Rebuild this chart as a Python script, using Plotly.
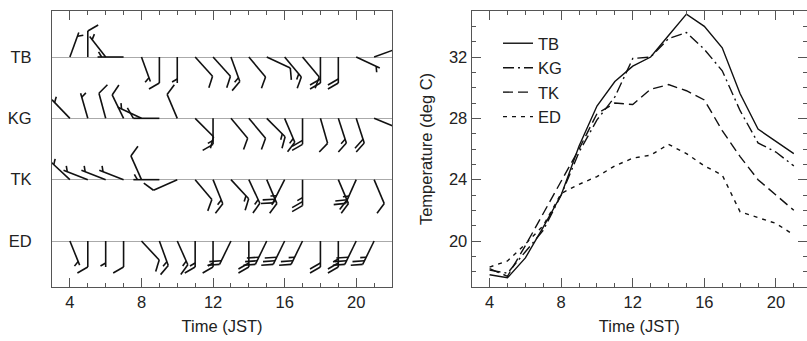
import math
import plotly.graph_objects as go

# ---------------- data ----------------
hours = list(range(4, 22))
station_names = ["TB", "KG", "TK", "ED"]
station_rows = [4, 3, 2, 1]

# wind direction (deg, direction the wind blows from); None = missing
wdir_TB = [20, 0, 322, 270, 160, 180, 180, 138, 138, 160, 140, 115, 140, 140, 180, 180, 115, 70]
wdir_KG = [316, 344, 345, 334, 295, 270, 337, 135, 180, 140, 140, 135, 157, 180, 164, 162, 162, 112]
wdir_TK = [313, 291, 291, 291, 336, 270, 246, 140, 158, 137, 155, 157, 207, 180, None, 157, 204, 157]
wdir_ED = [158, 180, 180, 180, 137, 160, 156, 180, 180, 206, 180, 206, 206, 206, 180, 180, 206, 206]

# wind speed (m/s): full feather = 2 m/s, half feather = 1 m/s
wspd_TB = [1, 2, 1, 1, 1, 2, 1, 2, 2, 3, 2, 2, 3, 2, 4, 4, 1, 2]
wspd_KG = [1, 1, 2, 2, 1, 2, 2, 2, 3, 2, 2, 3, 3, 4, 2, 3, 4, 2]
wspd_TK = [1, 1, 1, 1, 2, 1, 2, 2, 3, 3, 3, 3, 5, 5, None, 4, 5, 2]
wspd_ED = [1, 2, 1, 2, 2, 3, 3, 3, 3, 4, 4, 6, 6, 5, 4, 5, 6, 5]

# temperature (deg C)
temp_TB = [17.8, 17.6, 18.9, 20.9, 23.0, 26.2, 28.8, 30.4, 31.4, 32.0, 33.4, 34.8, 34.0, 32.6, 29.6, 27.3, 26.5, 25.7]
temp_KG = [18.1, 17.9, 19.3, 20.7, 23.0, 25.8, 27.9, 29.4, 31.9, 32.0, 33.2, 33.6, 32.5, 31.1, 28.5, 26.4, 25.8, 24.9]
temp_TK = [18.2, 17.7, 19.7, 21.8, 23.8, 26.0, 28.3, 29.0, 28.9, 29.9, 30.2, 29.8, 29.2, 27.2, 25.5, 24.0, 23.0, 22.0]
temp_ED = [18.3, 18.7, 19.8, 21.0, 23.1, 23.7, 24.2, 24.9, 25.4, 25.6, 26.3, 25.7, 24.9, 24.3, 21.9, 21.5, 21.15, 20.4]

# ---------------- layout geometry ----------------
W, H = 807, 341
M_L, M_R, M_T, M_B = 52, 0, 11, 54
PW = W - M_L - M_R
PH = H - M_T - M_B
LEFT_W = 340.0
RIGHT_X0 = 471.7 - M_L
X_RANGE_L = [3, 22]
Y_RANGE_L = [0.25, 4.75]
PX_PER_HOUR = LEFT_W / (X_RANGE_L[1] - X_RANGE_L[0])
X_RANGE_R = [3, 3 + (PW - RIGHT_X0) / PX_PER_HOUR]
Y_RANGE_R = [17, 35]

sx = PX_PER_HOUR
sy = PH / (Y_RANGE_L[1] - Y_RANGE_L[0])

SHAFT, FEATHER, GAP = 26.0, 12.0, 4.0


def barb_segments(x0, y0, d, s):
    th = math.radians(d)
    ux, uy = math.sin(th), math.cos(th)          # toward wind source (y up)
    px_, py_ = math.cos(th), -math.sin(th)       # left of downwind
    fx = 0.5 * ux + 0.866 * px_
    fy = 0.5 * uy + 0.866 * py_
    segs = []
    ex, ey = x0 + SHAFT * ux / sx, y0 + SHAFT * uy / sy
    segs.append((x0, y0, ex, ey))
    n_full = int(s // 2)
    n_half = 1 if (s - 2 * n_full) >= 1 else 0
    pos = SHAFT
    for i in range(n_full):
        bx0, by0 = x0 + pos * ux / sx, y0 + pos * uy / sy
        segs.append((bx0, by0, bx0 + FEATHER * fx / sx, by0 + FEATHER * fy / sy))
        pos -= GAP
    if n_half:
        if n_full == 0:
            pos = SHAFT - GAP
        bx0, by0 = x0 + pos * ux / sx, y0 + pos * uy / sy
        segs.append((bx0, by0, bx0 + 0.5 * FEATHER * fx / sx, by0 + 0.5 * FEATHER * fy / sy))
    return segs


fig = go.Figure()

wind = [(wdir_TB, wspd_TB), (wdir_KG, wspd_KG), (wdir_TK, wspd_TK), (wdir_ED, wspd_ED)]
for name, row, (dirs, spds) in zip(station_names, station_rows, wind):
    xs, ys = [], []
    for h, d, s in zip(hours, dirs, spds):
        if d is None or s is None:
            continue
        for (xa, ya, xb, yb) in barb_segments(h, row, d, s):
            xs += [xa, xb, None]
            ys += [ya, yb, None]
    fig.add_trace(go.Scatter(x=xs, y=ys, mode="lines", name=name + " wind",
                             line=dict(color="#111", width=1.6),
                             xaxis="x", yaxis="y", showlegend=False, hoverinfo="skip"))

dashes = {"TB": "solid", "KG": "11px,4px,2px,4px", "TK": "10px,5px", "ED": "4px,5px"}
for name, temps in zip(station_names, [temp_TB, temp_KG, temp_TK, temp_ED]):
    fig.add_trace(go.Scatter(x=hours, y=temps, mode="lines", name=name,
                             line=dict(color="#111", width=1.4, dash=dashes[name]),
                             xaxis="x2", yaxis="y2"))

AX = "#555"
FONT = dict(family="Liberation Sans, Arial, sans-serif", size=16.5, color="#222")
common = dict(showline=True, linecolor=AX, linewidth=1.2, zeroline=False, automargin=False,
              tickfont=FONT)
xticks = dict(tickmode="linear", tick0=0, dtick=4, ticks="inside", ticklen=9, tickwidth=1.2,
              tickcolor=AX, mirror="ticks", showgrid=False,
              minor=dict(dtick=1, tick0=0, ticks="inside", ticklen=4, tickwidth=1.2, tickcolor=AX))

fig.update_layout(
    width=W, height=H,
    margin=dict(l=M_L, r=M_R, t=M_T, b=M_B, pad=0),
    paper_bgcolor="white", plot_bgcolor="white",
    font=FONT,
    showlegend=True,
    legend=dict(x=(498 - M_L) / PW, y=1 - (26 - M_T) / PH, xanchor="left", yanchor="top",
                bgcolor="rgba(0,0,0,0)", borderwidth=0, font=FONT, tracegroupgap=0),
    xaxis=dict(domain=[0, LEFT_W / PW], range=X_RANGE_L, anchor="y",
               title=dict(text="Time (JST)", font=FONT, standoff=10), **xticks, **common),
    yaxis=dict(domain=[0, 1], range=Y_RANGE_L, anchor="x", tickmode="array",
               tickvals=station_rows, ticktext=station_names, ticks="", mirror=True,
               showgrid=True, gridcolor="#aaa", gridwidth=1, ticklabelstandoff=16, **common),
    xaxis2=dict(domain=[RIGHT_X0 / PW, 1], range=X_RANGE_R, anchor="y2",
                title=dict(text="Time (JST)", font=FONT, standoff=10), **xticks, **common),
    yaxis2=dict(domain=[0, 1], range=Y_RANGE_R, anchor="x2", tickmode="linear", tick0=0, dtick=4,
                ticks="inside", ticklen=9, tickwidth=1.2, tickcolor=AX, mirror="ticks", showgrid=False,
                minor=dict(dtick=1, tick0=0, ticks="inside", ticklen=4, tickwidth=1.2, tickcolor=AX),
                title=dict(text="Temperature (deg C)", font=FONT, standoff=12), **common),
)

fig.write_html("out.html", config={"displayModeBar": False},
               post_script="document.body.style.margin='0';document.body.style.overflow='hidden';")
